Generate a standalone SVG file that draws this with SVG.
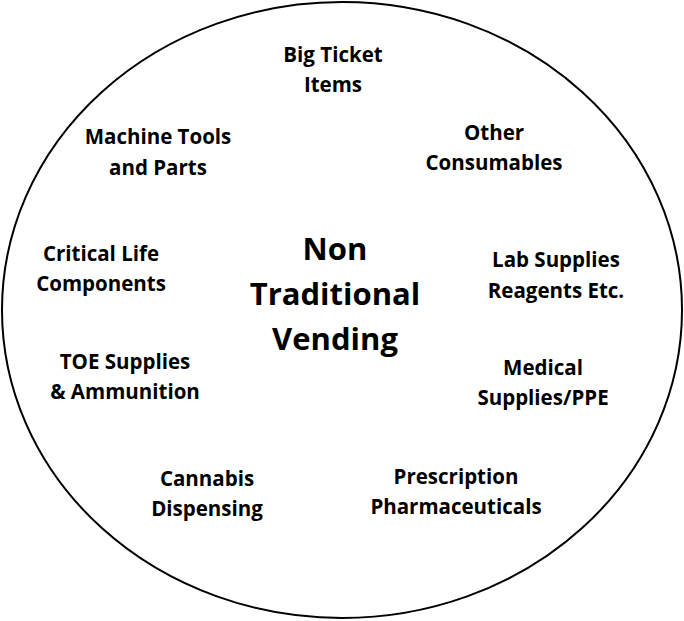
<svg xmlns="http://www.w3.org/2000/svg" width="684" height="621" viewBox="0 0 684 621">
<style>
.lbl{font-family:"Open Sans","Liberation Sans",sans-serif;font-weight:bold;font-size:20.5px;fill:#000;text-anchor:middle}
.big{font-family:"Open Sans","Liberation Sans",sans-serif;font-weight:bold;font-size:31px;fill:#000;text-anchor:middle}
</style>
<rect width="684" height="621" fill="#fff"/>
<g id="circle"><ellipse cx="342" cy="310" rx="340" ry="308" fill="#fff" stroke="#000" stroke-width="2"/></g>
<g id="center"><text class="big" x="335" y="260">Non</text><text class="big" x="335" y="305">Traditional</text><text class="big" x="335" y="350">Vending</text></g>
<g id="big-ticket"><text class="lbl" x="333" y="62">Big Ticket</text><text class="lbl" x="333" y="92">Items</text></g>
<g id="machine-tools"><text class="lbl" x="158" y="144">Machine Tools</text><text class="lbl" x="158" y="175">and Parts</text></g>
<g id="other"><text class="lbl" x="494" y="140">Other</text><text class="lbl" x="494" y="170">Consumables</text></g>
<g id="critical"><text class="lbl" x="101" y="261">Critical Life</text><text class="lbl" x="101" y="291">Components</text></g>
<g id="lab"><text class="lbl" x="556" y="267">Lab Supplies</text><text class="lbl" x="556" y="298">Reagents Etc.</text></g>
<g id="toe"><text class="lbl" x="125" y="369">TOE Supplies</text><text class="lbl" x="125" y="399">&amp; Ammunition</text></g>
<g id="medical"><text class="lbl" x="543" y="375">Medical</text><text class="lbl" x="543" y="405">Supplies/PPE</text></g>
<g id="cannabis"><text class="lbl" x="207" y="486">Cannabis</text><text class="lbl" x="207" y="516">Dispensing</text></g>
<g id="rx"><text class="lbl" x="456" y="484">Prescription</text><text class="lbl" x="456" y="514">Pharmaceuticals</text></g>
<g id="connectors"/>
</svg>
